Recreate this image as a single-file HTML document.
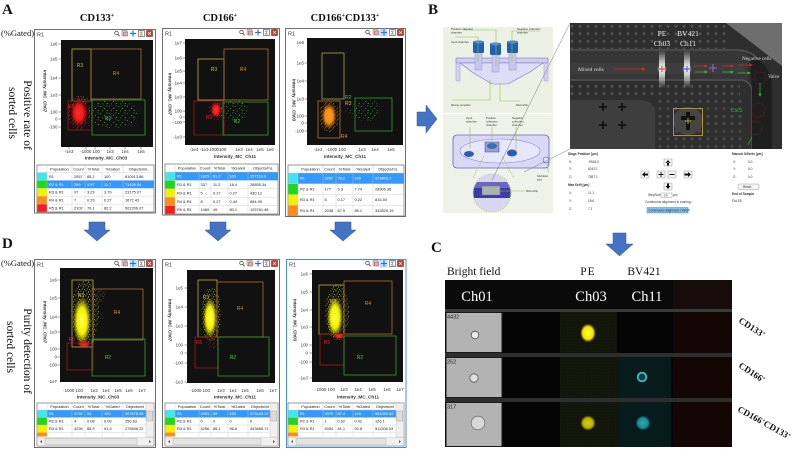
<!DOCTYPE html>
<html><head><meta charset="utf-8">
<style>
html,body{margin:0;padding:0;background:#fff;width:798px;height:449px;overflow:hidden}
svg{display:block}
.s{font-family:"Liberation Sans",sans-serif}
.f{font-family:"Liberation Serif",serif}
.tk{font-family:"Liberation Sans",sans-serif;font-size:4.4px;fill:#333}
.ax{font-family:"Liberation Sans",sans-serif;font-size:4.6px;font-weight:bold;fill:#333}
.tb{font-family:"Liberation Sans",sans-serif;font-size:3.9px;fill:#222}
.tw{font-family:"Liberation Sans",sans-serif;font-size:3.9px;fill:#fff}
.gl{font-family:"Liberation Sans",sans-serif;font-size:5px}
.sm{font-family:"Liberation Sans",sans-serif;font-size:2.8px;fill:#333}
.cb{font-family:"Liberation Sans",sans-serif;font-size:3.2px;fill:#333}
</style></head><body>
<svg width="798" height="449" viewBox="0 0 798 449" xmlns="http://www.w3.org/2000/svg">
<defs>
<radialGradient id="gR"><stop offset="0" stop-color="#ff3030"/><stop offset=".55" stop-color="#f01818"/><stop offset="1" stop-color="#d00" stop-opacity="0"/></radialGradient>
<radialGradient id="gY"><stop offset="0" stop-color="#ffff50"/><stop offset=".55" stop-color="#f4f000"/><stop offset="1" stop-color="#dd0" stop-opacity="0"/></radialGradient>
<radialGradient id="gO"><stop offset="0" stop-color="#ffa428"/><stop offset=".55" stop-color="#f58a10"/><stop offset="1" stop-color="#e07000" stop-opacity="0"/></radialGradient>
<radialGradient id="gPE"><stop offset="0" stop-color="#ffff30"/><stop offset=".7" stop-color="#f4e600"/><stop offset="1" stop-color="#c8b800" stop-opacity=".2"/></radialGradient>
<radialGradient id="gPE2"><stop offset="0" stop-color="#d8d010"/><stop offset=".7" stop-color="#b8ac00"/><stop offset="1" stop-color="#807800" stop-opacity=".1"/></radialGradient>
<radialGradient id="gCy"><stop offset="0" stop-color="#28a8b0"/><stop offset=".7" stop-color="#1a8a92"/><stop offset="1" stop-color="#0e5258" stop-opacity=".1"/></radialGradient>
<radialGradient id="gGlow"><stop offset="0" stop-color="#fff"/><stop offset=".5" stop-color="#eee" stop-opacity=".8"/><stop offset="1" stop-color="#999" stop-opacity="0"/></radialGradient>
<linearGradient id="gStr" x1="0" y1="0" x2="0" y2="1"><stop offset="0" stop-color="#fff" stop-opacity="0"/><stop offset=".4" stop-color="#fff" stop-opacity=".85"/><stop offset=".6" stop-color="#fff" stop-opacity=".85"/><stop offset="1" stop-color="#fff" stop-opacity="0"/></linearGradient>
<pattern id="pG" width="9" height="7" patternUnits="userSpaceOnUse"><rect x="1" y="1" width=".8" height=".8" fill="#3c3"/><rect x="5" y="3" width=".8" height=".8" fill="#4d4"/><rect x="3" y="5.5" width=".8" height=".8" fill="#2b2"/><rect x="7.5" y=".5" width=".8" height=".8" fill="#3c3"/><rect x="7.8" y="5" width=".8" height=".8" fill="#5e5"/></pattern>
<pattern id="pY" width="5" height="5" patternUnits="userSpaceOnUse"><rect x=".5" y=".5" width=".8" height=".8" fill="#ee0"/><rect x="3" y="1.5" width=".8" height=".8" fill="#ffc"/><rect x="1.8" y="3.5" width=".8" height=".8" fill="#dd0"/><rect x="4" y="4" width=".7" height=".7" fill="#ff6"/></pattern>
<pattern id="pR" width="4" height="4" patternUnits="userSpaceOnUse"><rect x=".5" y=".5" width=".8" height=".8" fill="#f22"/><rect x="2.5" y="2" width=".8" height=".8" fill="#d11"/><rect x="1" y="3" width=".7" height=".7" fill="#f44"/></pattern>
<pattern id="pO" width="4" height="4" patternUnits="userSpaceOnUse"><rect x=".5" y=".5" width=".8" height=".8" fill="#f92"/><rect x="2.5" y="2" width=".8" height=".8" fill="#e80"/><rect x="1" y="3" width=".7" height=".7" fill="#fb4"/></pattern>
<pattern id="pD" width="8" height="7.5" patternUnits="userSpaceOnUse"><circle cx="4" cy="3.7" r="1.5" fill="#505050"/></pattern>
<pattern id="pPE" width="3" height="3" patternUnits="userSpaceOnUse"><rect width="3" height="3" fill="#10140a"/><rect x=".5" y=".5" width=".6" height=".6" fill="#2a3010"/><rect x="2" y="2" width=".6" height=".6" fill="#20260c"/></pattern>
<g id="ic">
<circle cx="2.5" cy="3" r="1.8" fill="none" stroke="#555" stroke-width=".8"/><line x1="3.8" y1="4.3" x2="5.6" y2="6.3" stroke="#555" stroke-width="1"/>
<rect x="8" y=".5" width="5" height="5" fill="#ddd" stroke="#777" stroke-width=".5"/><rect x="9.5" y="2" width="4" height="4" fill="#bbb" stroke="#c33" stroke-width=".5"/>
<path d="M19 .5v6M16 3.5h6" stroke="#2a76d2" stroke-width="1.2"/>
<rect x="24.5" y=".5" width="6" height="6" fill="#fff" stroke="#444" stroke-width=".6"/><path d="M28.8 2h-2.5l1.5 1.5-1.5 1.5h2.5" fill="none" stroke="#333" stroke-width=".5"/>
<rect x="32.5" y=".5" width="6" height="6" fill="#c0392b" stroke="#7a1a1a" stroke-width=".5"/><path d="M34 2l3 3M37 2l-3 3" stroke="#fff" stroke-width=".7"/>
</g>
</defs>

<!-- ============ PANEL LETTERS / TITLES ============ -->
<g class="f" font-weight="bold" font-size="15" fill="#111">
<text x="2" y="14">A</text><text x="428" y="14">B</text><text x="2" y="248">D</text><text x="431" y="252">C</text>
</g>
<g class="f" font-weight="bold" font-size="10.5" fill="#111" text-anchor="middle">
<text x="97" y="21">CD133<tspan font-size="6" dy="-4">+</tspan></text>
<text x="220" y="21">CD166<tspan font-size="6" dy="-4">+</tspan></text>
<text x="345" y="21">CD166<tspan font-size="6" dy="-4">+</tspan><tspan dy="4">CD133</tspan><tspan font-size="6" dy="-4">+</tspan></text>
</g>
<g class="f" font-size="8.5" fill="#111">
<text x="1" y="36">(%Gated)</text>
<text x="1" y="266">(%Gated)</text>
</g>
<g class="f" font-size="11.5" fill="#111" text-anchor="middle">
<text transform="translate(24,115) rotate(90)">Positive rate of</text>
<text transform="translate(9,113) rotate(90)">sorted cells</text>
<text transform="translate(24,351) rotate(90)">Purity detection of</text>
<text transform="translate(7,347) rotate(90)">sorted cells</text>
</g>

<!-- ============ ARROWS ============ -->
<g fill="#4472c4" stroke="#2f5597" stroke-width=".5">
<path d="M89 222H105V230H110L97 241L84 230H89Z"/>
<path d="M210 222H226V230H231L218 241L205 230H210Z"/>
<path d="M335 222H351V230H356L343 241L330 230H335Z"/>
<path d="M417 112H426V105L437 119L426 133V126H417Z"/>
<path d="M613 233H626V244H633L619.5 256L606 244H613Z"/>
</g>

<!-- ============ WINDOW A1 ============ -->
<rect x="34.5" y="29.5" width="121" height="183.5" fill="#fff" stroke="#707070"/>
<text x="37" y="36.5" font-size="5.5" class="s" fill="#333">R1</text>
<use href="#ic" x="114" y="30"/>
<rect x="61" y="40" width="92" height="107" fill="#111"/>
<path d="M58.5 44h2.5M58.5 59h2.5M58.5 78h2.5M58.5 95h2.5M58.5 112h2.5M58.5 119h2.5M58.5 127h2.5M69 147v2.5M86 147v2.5M95 147v2.5M110 147v2.5M125 147v2.5M141 147v2.5" stroke="#444" stroke-width=".5"/>
<g class="tk" text-anchor="end"><text x="57.5" y="45.5">1e6</text><text x="57.5" y="60.5">1e5</text><text x="57.5" y="79.5">1e4</text><text x="57.5" y="96.5">1e3</text><text x="57.5" y="113.5">100</text><text x="57.5" y="120.5">0</text><text x="57.5" y="128.5">-100</text></g>
<g class="tk" text-anchor="middle"><text x="69" y="153">-1e3</text><text x="90" y="153">-1000 100</text><text x="110" y="153">1e3</text><text x="125" y="153">1e4</text><text x="141" y="153">1e5</text></g>
<text x="106" y="159.5" class="ax" text-anchor="middle">Intensity_MC_Ch03</text>
<text transform="translate(43.5,91) rotate(90)" class="ax" text-anchor="middle">Intensity_MC_Ch07</text>
<ellipse cx="113" cy="114" rx="26" ry="14" fill="url(#pG)"/>
<ellipse cx="79" cy="113" rx="11" ry="17" fill="url(#pR)"/>
<ellipse cx="79" cy="113" rx="8.5" ry="14" fill="url(#gR)"/>
<ellipse cx="82" cy="99" rx="7" ry="3" fill="url(#pY)" opacity=".7"/>
<g fill="none" stroke-width=".8">
<rect x="72" y="49" width="19" height="52" stroke="#b8b040"/>
<rect x="91" y="49" width="50" height="50" stroke="#a87028"/>
<rect x="68" y="101" width="24" height="29" stroke="#a01818"/>
<rect x="92" y="100" width="53" height="35" stroke="#2fa02f"/>
</g>
<g class="gl" text-anchor="middle"><text x="80" y="67" fill="#c8c040">R3</text><text x="116" y="75" fill="#d09030">R4</text><text x="71" y="108" fill="#e02020">R5</text><text x="108" y="120" fill="#40d040">R2</text></g>
<g transform="translate(37,165)">
<rect width="117" height="47" fill="#fff" stroke="#555" stroke-width=".6"/>
<rect x="10" y="15.4" width="107" height="7.9" fill="#3399ff"/>
<rect x=".3" y="7.5" width="9.7" height="7.9" fill="#3ee6f0"/><rect x=".3" y="15.4" width="9.7" height="7.9" fill="#1ed81e"/><rect x=".3" y="23.3" width="9.7" height="7.9" fill="#f2f200"/><rect x=".3" y="31.2" width="9.7" height="7.9" fill="#ff8c18"/><rect x=".3" y="39.1" width="9.7" height="7.6" fill="#ff1a1a"/>
<path d="M0 7.5H117M0 15.4H117M0 23.3H117M0 31.2H117M0 39.1H117M10 0V47M35 0V47M48 0V47M65 0V47M86 0V47" stroke="#c8c8c8" stroke-width=".4"/>
<g class="tb" text-anchor="middle"><text x="22.5" y="5.3">Population</text><text x="41.5" y="5.3">Count</text><text x="56.5" y="5.3">%Total</text><text x="75.5" y="5.3">%Gated</text><text x="101.5" y="5.3">Objects/mL</text></g>
<g class="tb"><text x="12" y="12.9">R1</text><text x="37" y="12.9">2557</text><text x="50" y="12.9">85.2</text><text x="67" y="12.9">100</text><text x="88" y="12.9">610913.86</text></g>
<g class="tw"><text x="12" y="20.8">R2 &amp; R1</text><text x="37" y="20.8">299</text><text x="50" y="20.8">9.97</text><text x="67" y="20.8">11.7</text><text x="88" y="20.8">71436.54</text></g>
<g class="tb"><text x="12" y="28.7">R3 &amp; R1</text><text x="37" y="28.7">97</text><text x="50" y="28.7">3.23</text><text x="67" y="28.7">3.79</text><text x="88" y="28.7">23175.07</text></g>
<g class="tb"><text x="12" y="36.6">R4 &amp; R1</text><text x="37" y="36.6">7</text><text x="50" y="36.6">0.23</text><text x="67" y="36.6">0.27</text><text x="88" y="36.6">1672.43</text></g>
<g class="tb"><text x="12" y="44.5">R5 &amp; R1</text><text x="37" y="44.5">2102</text><text x="50" y="44.5">70.1</text><text x="67" y="44.5">82.2</text><text x="88" y="44.5">502206.07</text></g>
</g>

<!-- ============ WINDOW A2 ============ -->
<rect x="162.5" y="28.5" width="117" height="186.5" fill="#fff" stroke="#707070"/>
<text x="165" y="35.5" font-size="5.5" class="s" fill="#333">R1</text>
<use href="#ic" x="239" y="29"/>
<rect x="185" y="39" width="90" height="106" fill="#111"/>
<path d="M182.5 43h2.5M182.5 58h2.5M182.5 71h2.5M182.5 83h2.5M182.5 97h2.5M182.5 111h2.5M182.5 117h2.5M182.5 122h2.5M182.5 137h2.5" stroke="#444" stroke-width=".5"/>
<g class="tk" text-anchor="end"><text x="182" y="44.5">1e7</text><text x="182" y="59.5">1e6</text><text x="182" y="72.5">1e5</text><text x="182" y="84.5">1e4</text><text x="182" y="98.5">1e3</text><text x="182" y="112.5">100</text><text x="182" y="118.5">0</text><text x="182" y="124">-100</text><text x="182" y="138.5">-1e3</text></g>
<g class="tk" text-anchor="middle"><text x="194" y="151">-1e4</text><text x="204" y="151">-1e3</text><text x="217" y="151">-1000100</text><text x="239" y="151">1e3</text><text x="249" y="151">1e4</text><text x="260" y="151">1e5</text><text x="270" y="151">1e6</text></g>
<text x="235" y="158" class="ax" text-anchor="middle">Intensity_MC_Ch11</text>
<text transform="translate(168.5,94) rotate(90)" class="ax" text-anchor="middle">Intensity_MC_Ch07</text>
<ellipse cx="232" cy="110" rx="16" ry="11" fill="url(#pG)"/>
<ellipse cx="216" cy="110" rx="7" ry="10" fill="url(#pR)"/>
<ellipse cx="216" cy="110" rx="5.5" ry="8" fill="url(#gR)"/>
<g fill="none" stroke-width=".8">
<rect x="198" y="59" width="26" height="41" stroke="#b8b040"/>
<rect x="224" y="49" width="44" height="51" stroke="#a87028"/>
<rect x="194" y="101" width="30" height="34" stroke="#a01818"/>
<rect x="223" y="102" width="45" height="33" stroke="#2fa02f"/>
</g>
<g class="gl" text-anchor="middle"><text x="214" y="71" fill="#c8c040">R3</text><text x="243" y="71" fill="#d09030">R4</text><text x="209" y="119" fill="#e02020">R5</text><text x="237" y="123" fill="#40d040">R2</text></g>
<g transform="translate(165,164)">
<rect width="113" height="50" fill="#fff" stroke="#555" stroke-width=".6"/>
<rect x="10" y="8" width="103" height="8.4" fill="#3399ff"/>
<rect x=".3" y="8" width="9.7" height="8.4" fill="#3ee6f0"/><rect x=".3" y="16.4" width="9.7" height="8.4" fill="#1ed81e"/><rect x=".3" y="24.8" width="9.7" height="8.4" fill="#f2f200"/><rect x=".3" y="33.2" width="9.7" height="8.4" fill="#ff8c18"/><rect x=".3" y="41.6" width="9.7" height="8.1" fill="#ff1a1a"/>
<path d="M0 8H113M0 16.4H113M0 24.8H113M0 33.2H113M0 41.6H113M10 0V50M34 0V50M46 0V50M63 0V50M83 0V50" stroke="#c8c8c8" stroke-width=".4"/>
<g class="tb" text-anchor="middle"><text x="22" y="5.6">Population</text><text x="40" y="5.6">Count</text><text x="54.5" y="5.6">%Total</text><text x="73" y="5.6">%Gated</text><text x="98" y="5.6">Objects/mL</text></g>
<g class="tw"><text x="12" y="13.6">R1</text><text x="35.5" y="13.6">1825</text><text x="48" y="13.6">61.2</text><text x="64.5" y="13.6">100</text><text x="85" y="13.6">157118.0</text></g>
<g class="tb"><text x="12" y="22">R2 &amp; R1</text><text x="35.5" y="22">337</text><text x="48" y="22">11.2</text><text x="64.5" y="22">18.4</text><text x="85" y="22">28855.34</text></g>
<g class="tb"><text x="12" y="30.4">R3 &amp; R1</text><text x="35.5" y="30.4">5</text><text x="48" y="30.4">0.17</text><text x="64.5" y="30.4">0.27</text><text x="85" y="30.4">430.12</text></g>
<g class="tb"><text x="12" y="38.8">R4 &amp; R1</text><text x="35.5" y="38.8">8</text><text x="48" y="38.8">0.27</text><text x="64.5" y="38.8">0.44</text><text x="85" y="38.8">684.99</text></g>
<g class="tb"><text x="12" y="47.2">R5 &amp; R1</text><text x="35.5" y="47.2">1469</text><text x="48" y="47.2">49</text><text x="64.5" y="47.2">80.1</text><text x="85" y="47.2">125761.46</text></g>
</g>

<!-- ============ WINDOW A3 ============ -->
<rect x="285.5" y="28.5" width="120" height="188" fill="#fff" stroke="#707070"/>
<text x="288" y="35.5" font-size="5.5" class="s" fill="#333">R1</text>
<rect x="380" y="29" width="7" height="7" fill="#cfe4fb" stroke="#7aaee0" stroke-width=".4"/>
<use href="#ic" x="365" y="29"/>
<rect x="307" y="38" width="96" height="107" fill="#111"/>
<path d="M304.5 63h2.5M304.5 81h2.5M304.5 99h2.5M304.5 116h2.5M304.5 123h2.5M304.5 131h2.5" stroke="#444" stroke-width=".5"/>
<g class="tk" text-anchor="end"><text x="304" y="44">1e6</text><text x="304" y="64.5">1e5</text><text x="304" y="82.5">1e4</text><text x="304" y="100.5">1e3</text><text x="304" y="117.5">100</text><text x="304" y="124.5">0</text><text x="304" y="132.5">-100</text></g>
<g class="tk" text-anchor="middle"><text x="318" y="151">-1e3</text><text x="336" y="151">-1000 100</text><text x="362" y="151">1e3</text><text x="375" y="151">1e4</text><text x="391" y="151">1e5</text></g>
<text x="345" y="158" class="ax" text-anchor="middle">Intensity_MC_Ch11</text>
<text transform="translate(292.5,100) rotate(90)" class="ax" text-anchor="middle">Intensity_MC_Ch03</text>
<ellipse cx="366" cy="110" rx="14" ry="11" fill="url(#pG)"/>
<ellipse cx="349" cy="110" rx="8" ry="4" fill="url(#pG)" opacity=".6"/>
<ellipse cx="329" cy="116" rx="10" ry="16" fill="url(#pO)"/>
<ellipse cx="329" cy="116" rx="7.5" ry="13" fill="url(#gO)"/>
<g fill="none" stroke-width=".8">
<rect x="322" y="53" width="22" height="46" stroke="#b0a450"/>
<rect x="318" y="101" width="22" height="37" stroke="#b07828"/>
<rect x="355" y="98" width="37" height="33" stroke="#2fa02f"/>
</g>
<g class="gl"><text x="345" y="99" fill="#40d040">R2</text><text x="345" y="105" fill="#d0c030">R3</text><text x="341" y="138" fill="#e0a020">R4</text></g>
<g transform="translate(288,165)">
<rect width="116" height="51" fill="#fff" stroke="#555" stroke-width=".6"/>
<rect x="10" y="8" width="106" height="10.75" fill="#3399ff"/>
<rect x=".3" y="8" width="9.7" height="10.75" fill="#3ee6f0"/><rect x=".3" y="18.75" width="9.7" height="10.75" fill="#1ed81e"/><rect x=".3" y="29.5" width="9.7" height="10.75" fill="#f2f200"/><rect x=".3" y="40.25" width="9.7" height="10.5" fill="#ff8c18"/>
<path d="M0 8H116M0 18.75H116M0 29.5H116M0 40.25H116M10 0V51M35 0V51M48 0V51M65 0V51M85 0V51" stroke="#c8c8c8" stroke-width=".4"/>
<g class="tb" text-anchor="middle"><text x="22.5" y="5.6">Population</text><text x="41.5" y="5.6">Count</text><text x="56.5" y="5.6">%Total</text><text x="75" y="5.6">%Gated</text><text x="100" y="5.6">Objects/mL</text></g>
<g class="tw"><text x="12" y="14.6">R1</text><text x="36.5" y="14.6">2287</text><text x="49.5" y="14.6">76.2</text><text x="66.5" y="14.6">100</text><text x="87" y="14.6">373403.7</text></g>
<g class="tb"><text x="12" y="25.35">R2 &amp; R1</text><text x="36.5" y="25.35">177</text><text x="49.5" y="25.35">5.9</text><text x="66.5" y="25.35">7.74</text><text x="87" y="25.35">28905.38</text></g>
<g class="tb"><text x="12" y="36.1">R3 &amp; R1</text><text x="36.5" y="36.1">5</text><text x="49.5" y="36.1">0.17</text><text x="66.5" y="36.1">0.22</text><text x="87" y="36.1">816.54</text></g>
<g class="tb"><text x="12" y="46.85">R4 &amp; R1</text><text x="36.5" y="46.85">2038</text><text x="49.5" y="46.85">67.9</text><text x="66.5" y="46.85">89.1</text><text x="87" y="46.85">332820.19</text></g>
</g>

<!-- ============ WINDOW D1 ============ -->
<rect x="34.5" y="259.5" width="121" height="188" fill="#fff" stroke="#707070"/>
<text x="37" y="266.5" font-size="5.5" class="s" fill="#333">R1</text>
<rect x="130" y="260" width="7" height="7" fill="#cfe4fb" stroke="#7aaee0" stroke-width=".4"/>
<use href="#ic" x="114" y="260"/>
<rect x="60" y="268" width="93" height="114" fill="#111"/>
<path d="M57.5 280h2.5M57.5 298h2.5M57.5 317h2.5M57.5 332h2.5M57.5 349h2.5M57.5 357h2.5M57.5 365h2.5" stroke="#444" stroke-width=".5"/>
<g class="tk" text-anchor="end"><text x="57" y="281.5">1e6</text><text x="57" y="299.5">1e5</text><text x="57" y="318.5">1e4</text><text x="57" y="333.5">1e3</text><text x="57" y="350.5">100</text><text x="57" y="358.5">0</text><text x="57" y="366.5">-100</text><text x="57" y="383">-1e7</text></g>
<g class="tk" text-anchor="middle"><text x="73" y="392">-1000 100</text><text x="94" y="392">1e3</text><text x="106" y="392">1e4</text><text x="118" y="392">1e5</text><text x="129" y="392">1e6</text><text x="142" y="392">1e7</text></g>
<text x="98" y="398.5" class="ax" text-anchor="middle">Intensity_MC_Ch03</text>
<text transform="translate(43.5,322) rotate(90)" class="ax" text-anchor="middle">Intensity_MC_Ch07</text>
<ellipse cx="85" cy="312" rx="14" ry="32" fill="url(#pY)"/>
<ellipse cx="95" cy="296" rx="10" ry="8" fill="url(#pY)" opacity=".5"/>
<ellipse cx="82" cy="321" rx="9" ry="24" fill="url(#gY)"/>
<ellipse cx="84" cy="344" rx="7" ry="3.5" fill="url(#gR)"/>
<g fill="none" stroke-width=".8">
<rect x="72" y="280" width="21" height="67" stroke="#b8b040"/>
<rect x="93" y="289" width="50" height="51" stroke="#a87028"/>
<rect x="67" y="343" width="26" height="27" stroke="#a01818"/>
<rect x="92" y="339" width="53" height="37" stroke="#2fa02f"/>
</g>
<g class="gl" text-anchor="middle"><text x="81" y="297" fill="#c8c040">R3</text><text x="117" y="314" fill="#d09030">R4</text><text x="72" y="341" fill="#e02020">R5</text><text x="108" y="359" fill="#40d040">R2</text></g>
<g transform="translate(37,403)">
<rect width="117" height="43" fill="#fff" stroke="#555" stroke-width=".6"/>
<rect x="10" y="7" width="107" height="7.5" fill="#3399ff"/>
<rect x=".3" y="7" width="9.7" height="7.5" fill="#3ee6f0"/><rect x=".3" y="14.5" width="9.7" height="7.5" fill="#1ed81e"/><rect x=".3" y="22" width="9.7" height="7.5" fill="#f2f200"/><rect x=".3" y="29.5" width="9.7" height="4" fill="#ff8c18"/>
<path d="M0 7H117M0 14.5H117M0 22H117M0 29.5H117M10 0V34M35 0V34M48 0V34M65 0V34M86 0V34" stroke="#c8c8c8" stroke-width=".4"/>
<g class="tb" text-anchor="middle"><text x="22.5" y="5">Population</text><text x="41.5" y="5">Count</text><text x="56.5" y="5">%Total</text><text x="75.5" y="5">%Gated</text><text x="98" y="5">Objects/ml</text></g>
<g class="tw"><text x="12" y="12.2">R1</text><text x="37" y="12.2">4792</text><text x="50" y="12.2">94</text><text x="67" y="12.2">100</text><text x="88" y="12.2">307678.45</text></g>
<g class="tb"><text x="12" y="19.7">R2 &amp; R1</text><text x="37" y="19.7">4</text><text x="50" y="19.7">0.08</text><text x="67" y="19.7">0.09</text><text x="88" y="19.7">256.63</text></g>
<g class="tb"><text x="12" y="27.2">R3 &amp; R1</text><text x="37" y="27.2">4295</text><text x="50" y="27.2">85.9</text><text x="67" y="27.2">91.3</text><text x="88" y="27.2">275658.22</text></g>
<rect x="109" y=".3" width="7.7" height="33.7" fill="#f0f0f0" stroke="#bbb" stroke-width=".4"/><rect x="109.8" y="8" width="6" height="10" fill="#dcdcdc" stroke="#999" stroke-width=".4"/>
<rect x=".3" y="34.5" width="116.4" height="8.2" fill="#f0f0f0" stroke="#bbb" stroke-width=".4"/><rect x="8" y="35.3" width="92" height="6.6" fill="#e4e4e4" stroke="#aaa" stroke-width=".4"/>
<path d="M3 38.6l2-1.5v3zM114 38.6l-2-1.5v3z" fill="#555"/>
</g>

<!-- ============ WINDOW D2 ============ -->
<rect x="162.5" y="259.5" width="117" height="188" fill="#fff" stroke="#707070"/>
<text x="165" y="266.5" font-size="5.5" class="s" fill="#333">R1</text>
<use href="#ic" x="239" y="260"/>
<rect x="187" y="270" width="88" height="113" fill="#111"/>
<path d="M184.5 288h2.5M184.5 307h2.5M184.5 326h2.5M184.5 345h2.5M184.5 353h2.5M184.5 363h2.5M184.5 382h2.5" stroke="#444" stroke-width=".5"/>
<g class="tk" text-anchor="end"><text x="183" y="289.5">1e5</text><text x="183" y="308.5">1e4</text><text x="183" y="327.5">1e3</text><text x="183" y="346.5">100</text><text x="183" y="354.5">0</text><text x="183" y="364.5">-100</text><text x="183" y="383.5">-1e3</text></g>
<g class="tk" text-anchor="middle"><text x="200" y="392">-1000 100</text><text x="221" y="392">1e3</text><text x="233" y="392">1e4</text><text x="245" y="392">1e5</text><text x="260" y="392">1e6</text><text x="273" y="392">1e7</text></g>
<text x="235" y="398.5" class="ax" text-anchor="middle">Intensity_MC_Ch11</text>
<text transform="translate(168.5,320) rotate(90)" class="ax" text-anchor="middle">Intensity_MC_Ch07</text>
<ellipse cx="211" cy="314" rx="10" ry="27" fill="url(#pY)"/>
<ellipse cx="210" cy="318" rx="7" ry="20" fill="url(#gY)"/>
<ellipse cx="212" cy="342" rx="6" ry="6" fill="url(#pR)" opacity=".6"/>
<g fill="none" stroke-width=".8">
<rect x="198" y="280" width="19" height="57" stroke="#b8b040"/>
<rect x="217" y="282" width="46" height="55" stroke="#a87028"/>
<rect x="195" y="337" width="23" height="31" stroke="#a01818"/>
<rect x="218" y="337" width="51" height="39" stroke="#2fa02f"/>
</g>
<g class="gl" text-anchor="middle"><text x="206" y="299" fill="#c8c040">R3</text><text x="240" y="310" fill="#d09030">R4</text><text x="199" y="344" fill="#e02020">R5</text><text x="233" y="359" fill="#40d040">R2</text></g>
<g transform="translate(165,403)">
<rect width="113" height="43" fill="#fff" stroke="#555" stroke-width=".6"/>
<rect x="10" y="7" width="103" height="7.5" fill="#3399ff"/>
<rect x=".3" y="7" width="9.7" height="7.5" fill="#3ee6f0"/><rect x=".3" y="14.5" width="9.7" height="7.5" fill="#1ed81e"/><rect x=".3" y="22" width="9.7" height="7.5" fill="#f2f200"/><rect x=".3" y="29.5" width="9.7" height="4" fill="#ff8c18"/>
<path d="M0 7H113M0 14.5H113M0 22H113M0 29.5H113M10 0V34M34 0V34M46 0V34M63 0V34M83 0V34" stroke="#c8c8c8" stroke-width=".4"/>
<g class="tb" text-anchor="middle"><text x="22" y="5">Population</text><text x="40" y="5">Count</text><text x="54.5" y="5">%Total</text><text x="73" y="5">%Gated</text><text x="95" y="5">Objects/ml</text></g>
<g class="tw"><text x="12" y="12.2">R1</text><text x="35.5" y="12.2">4451</text><text x="48" y="12.2">89</text><text x="64.5" y="12.2">100</text><text x="85" y="12.2">473183.12</text></g>
<g class="tb"><text x="12" y="19.7">R2 &amp; R1</text><text x="35.5" y="19.7">0</text><text x="48" y="19.7">0</text><text x="64.5" y="19.7">0</text><text x="85" y="19.7">0</text></g>
<g class="tb"><text x="12" y="27.2">R3 &amp; R1</text><text x="35.5" y="27.2">4296</text><text x="48" y="27.2">85.1</text><text x="64.5" y="27.2">96.6</text><text x="85" y="27.2">443686.71</text></g>
<rect x="105" y=".3" width="7.7" height="33.7" fill="#f0f0f0" stroke="#bbb" stroke-width=".4"/><rect x="105.8" y="8" width="6" height="10" fill="#dcdcdc" stroke="#999" stroke-width=".4"/>
<rect x=".3" y="34.5" width="112.4" height="8.2" fill="#f0f0f0" stroke="#bbb" stroke-width=".4"/><rect x="8" y="35.3" width="88" height="6.6" fill="#e4e4e4" stroke="#aaa" stroke-width=".4"/>
<path d="M3 38.6l2-1.5v3zM110 38.6l-2-1.5v3z" fill="#555"/>
</g>

<!-- ============ WINDOW D3 ============ -->
<rect x="286.5" y="259.5" width="119.5" height="188" fill="#fff" stroke="#4a8fd4"/>
<text x="289" y="266.5" font-size="5.5" class="s" fill="#333">R1</text>
<rect x="380" y="260" width="7" height="7" fill="#cfe4fb" stroke="#7aaee0" stroke-width=".4"/>
<use href="#ic" x="365" y="260"/>
<rect x="312" y="270" width="91" height="112" fill="#111"/>
<path d="M309.5 274h2.5M309.5 292h2.5M309.5 310h2.5M309.5 327h2.5M309.5 345h2.5M309.5 353h2.5M309.5 362h2.5M309.5 378h2.5" stroke="#444" stroke-width=".5"/>
<g class="tk" text-anchor="end"><text x="308" y="275.5">1e6</text><text x="308" y="293.5">1e5</text><text x="308" y="311.5">1e4</text><text x="308" y="328.5">1e3</text><text x="308" y="346.5">100</text><text x="308" y="354.5">0</text><text x="308" y="363.5">-100</text><text x="308" y="379.5">-1e3</text></g>
<g class="tk" text-anchor="middle"><text x="325" y="391">-1000 100</text><text x="344" y="391">1e3</text><text x="358" y="391">1e4</text><text x="372" y="391">1e5</text><text x="387" y="391">1e6</text><text x="400" y="391">1e7</text></g>
<text x="358" y="398.5" class="ax" text-anchor="middle">Intensity_MC_Ch11</text>
<text transform="translate(293.5,320) rotate(90)" class="ax" text-anchor="middle">Intensity_MC_Ch03</text>
<ellipse cx="337" cy="312" rx="12" ry="28" fill="url(#pY)"/>
<ellipse cx="335" cy="317" rx="8" ry="20" fill="url(#gY)"/>
<ellipse cx="339" cy="336" rx="6" ry="3" fill="url(#gR)"/>
<g fill="none" stroke-width=".8">
<rect x="319" y="285" width="25" height="49" stroke="#b8b040"/>
<rect x="344" y="281" width="48" height="53" stroke="#a87028"/>
<rect x="320" y="334" width="24" height="31" stroke="#a01818"/>
<rect x="344" y="336" width="52" height="39" stroke="#2fa02f"/>
</g>
<g class="gl" text-anchor="middle"><text x="333" y="303" fill="#c8c040">R3</text><text x="368" y="305" fill="#d09030">R4</text><text x="327" y="344" fill="#e02020">R5</text><text x="360" y="359" fill="#40d040">R2</text></g>
<g transform="translate(288,403)">
<rect width="116" height="43" fill="#fff" stroke="#555" stroke-width=".6"/>
<rect x="10" y="7" width="106" height="7.5" fill="#3399ff"/>
<rect x=".3" y="7" width="9.7" height="7.5" fill="#3ee6f0"/><rect x=".3" y="14.5" width="9.7" height="7.5" fill="#1ed81e"/><rect x=".3" y="22" width="9.7" height="7.5" fill="#f2f200"/><rect x=".3" y="29.5" width="9.7" height="4" fill="#ff8c18"/>
<path d="M0 7H116M0 14.5H116M0 22H116M0 29.5H116M10 0V34M35 0V34M48 0V34M65 0V34M85 0V34" stroke="#c8c8c8" stroke-width=".4"/>
<g class="tb" text-anchor="middle"><text x="22.5" y="5">Population</text><text x="41.5" y="5">Count</text><text x="56.5" y="5">%Total</text><text x="75" y="5">%Gated</text><text x="97" y="5">Objects/ml</text></g>
<g class="tw"><text x="12" y="12.2">R1</text><text x="36.5" y="12.2">4370</text><text x="49.5" y="12.2">87.4</text><text x="66.5" y="12.2">100</text><text x="87" y="12.2">551052.82</text></g>
<g class="tb"><text x="12" y="19.7">R2 &amp; R1</text><text x="36.5" y="19.7">1</text><text x="49.5" y="19.7">0.02</text><text x="66.5" y="19.7">0.02</text><text x="87" y="19.7">126.1</text></g>
<g class="tb"><text x="12" y="27.2">R3 &amp; R1</text><text x="36.5" y="27.2">4054</text><text x="49.5" y="27.2">81.1</text><text x="66.5" y="27.2">92.8</text><text x="87" y="27.2">511208.53</text></g>
<rect x="108" y=".3" width="7.7" height="33.7" fill="#f0f0f0" stroke="#bbb" stroke-width=".4"/><rect x="108.8" y="8" width="6" height="10" fill="#dcdcdc" stroke="#999" stroke-width=".4"/>
<rect x=".3" y="34.5" width="115.4" height="8.2" fill="#f0f0f0" stroke="#bbb" stroke-width=".4"/><rect x="8" y="35.3" width="90" height="6.6" fill="#e4e4e4" stroke="#aaa" stroke-width=".4"/>
<path d="M3 38.6l2-1.5v3zM113 38.6l-2-1.5v3z" fill="#555"/>
</g>

<!-- ============ PANEL B: DEVICE ============ -->
<rect x="443" y="27" width="110" height="86" fill="#edf1e5"/>
<rect x="443" y="114" width="110" height="99" fill="#eef2e8"/>
<!-- top device -->
<g stroke-width=".6">
<rect x="456" y="58" width="92" height="5" fill="#cfcdf0" stroke="#7d74cc"/>
<path d="M460 63L543 63L530 72L508 84L492 84L472 72Z" fill="#dedcf6" stroke="#7d74cc"/>
<rect x="456" y="63" width="4" height="18" fill="#d5d3f2" stroke="#8a82d0" stroke-width=".4"/>
<rect x="544" y="63" width="4" height="18" fill="#d5d3f2" stroke="#8a82d0" stroke-width=".4"/>
<rect x="475" y="52" width="7" height="18" fill="#c8c6ee" stroke="#8a82d0" stroke-width=".4"/>
<rect x="492" y="52" width="7" height="20" fill="#c8c6ee" stroke="#8a82d0" stroke-width=".4"/>
<rect x="509" y="52" width="7" height="18" fill="#c8c6ee" stroke="#8a82d0" stroke-width=".4"/>
</g>
<g fill="#1f60b0"><rect x="473" y="41" width="11" height="12" rx="1.5"/><rect x="490" y="43" width="11" height="12" rx="1.5"/><rect x="507" y="41" width="11" height="12" rx="1.5"/></g>
<g fill="#4a88d4"><ellipse cx="478.5" cy="42" rx="5" ry="1.6"/><ellipse cx="495.5" cy="44" rx="5" ry="1.6"/><ellipse cx="512.5" cy="42" rx="5" ry="1.6"/></g>
<g stroke="#8cc63f" stroke-width=".6" fill="none">
<path d="M455 37H478V62"/><path d="M463 30H496V66"/><path d="M540 31H512V62"/><path d="M452 100H490V80"/><path d="M520 101H500V84"/>
</g>
<g class="sm"><text x="451" y="30">Positive collection</text><text x="451" y="33.5">chamber</text><text x="451" y="43">Input chamber</text><text x="517" y="30">Negative collection</text><text x="517" y="33.5">chamber</text><text x="451" y="106">Mixing propeller</text><text x="516" y="106">Microchip</text></g>
<!-- bottom device -->
<rect x="453" y="135" width="96" height="33" rx="4" fill="#dad8f4" stroke="#6d63c4" stroke-width=".8"/>
<ellipse cx="500" cy="151" rx="40" ry="12" fill="#e8e6fa" stroke="#8b83d6" stroke-width=".6"/>
<ellipse cx="469" cy="154" rx="5" ry="3" fill="#2a5db0"/><ellipse cx="512" cy="153" rx="5" ry="3.5" fill="#2a5db0"/>
<rect x="485" y="142" width="14" height="10" fill="#9aa0c8" stroke="#3c4aa0" stroke-width=".5"/>
<ellipse cx="492" cy="146" rx="5" ry="3" fill="#3a70c0"/>
<circle cx="546" cy="160" r="3" fill="#e0e0f4" stroke="#5a52b8" stroke-width=".6"/>
<g stroke="#8cc63f" stroke-width=".6" fill="none" stroke-dasharray="1.5 1"><path d="M484 156L473 178"/><path d="M502 156L514 178"/><circle cx="492" cy="193" r="19"/></g>
<clipPath id="cc"><circle cx="492" cy="193" r="18.6"/></clipPath>
<g clip-path="url(#cc)"><rect x="470" y="172" width="45" height="42" fill="#d8d6f2"/><rect x="470" y="182" width="45" height="6" fill="#6a66c4"/><rect x="470" y="188" width="45" height="10" fill="#3c3ca8"/><rect x="482" y="186" width="18" height="9" fill="#a9b3b0" stroke="#6a7470" stroke-width=".5"/></g>
<g stroke="#8cc63f" stroke-width=".6" fill="none"><path d="M470 127V148"/><path d="M492 127V142"/><path d="M516 127V150"/><path d="M500 191H525"/><path d="M548 163V172"/></g>
<g class="sm"><text x="466" y="119">Input</text><text x="466" y="122.5">chamber</text><text x="486" y="119">Positive</text><text x="486" y="122.5">collection</text><text x="486" y="126">chamber</text><text x="512" y="119">Negative</text><text x="512" y="122.5">collection</text><text x="512" y="126">chamber</text><text x="537" y="177">Sprinkler</text><text x="537" y="180.5">port</text><text x="526" y="192">Microchip</text></g>
<g stroke="#7a7a7a" stroke-width=".5"><line x1="570" y1="23" x2="492" y2="180"/><line x1="570" y1="149" x2="524" y2="172"/></g>

<!-- ============ PANEL B: MICROSCOPE ============ -->
<rect x="570" y="23" width="212" height="126" fill="#2e2e2e"/>
<rect x="570" y="23" width="160" height="26" fill="url(#pD)"/>
<polygon points="726,23 782,23 782,66" fill="#6e6e6e"/>
<rect x="570" y="49" width="178" height="32" fill="#363636"/>
<path d="M570 50H735Q752 50 758 60" fill="none" stroke="#555" stroke-width="1.2"/>
<path d="M570 80H740Q750 80 752 90V149" fill="none" stroke="#555" stroke-width="1.2"/>
<rect x="570" y="63" width="175" height="11" fill="#3d3d3d"/>
<path d="M752 90V149H772V88Q772 64 750 56" fill="#1e1e1e"/>
<rect x="570" y="83" width="170" height="15" fill="url(#pD)"/>
<path d="M570 100H638Q655 100 655 112V149H570Z" fill="#3e3e3e"/>
<rect x="657" y="100" width="85" height="49" fill="url(#pD)" opacity=".8"/>
<ellipse cx="688" cy="121" rx="15" ry="14" fill="#454545"/>
<g stroke="#111" stroke-width="1.8"><path d="M599 107h8M603 103v8M618 107h8M622 103v8M599 125h8M603 121v8M618 125h8M622 121v8"/></g>
<path d="M681 118h14M688 112v18" stroke="#111" stroke-width="4"/>
<rect x="673.5" y="108.5" width="29" height="27" fill="none" stroke="#c8b020" stroke-width=".8"/>
<path d="M685 121h6M688 118v6" stroke="#e8d020" stroke-width=".8"/>
<rect x="659" y="50" width="6" height="38" fill="url(#gStr)"/>
<rect x="684" y="50" width="6" height="38" fill="url(#gStr)"/>
<circle cx="662" cy="69" r="5" fill="url(#gGlow)"/><circle cx="687" cy="69" r="5" fill="url(#gGlow)"/>
<path d="M659 69h6M662 66v6" stroke="#e02020" stroke-width=".9"/>
<path d="M684 69h6M687 66v6" stroke="#3040e0" stroke-width=".9"/>
<path d="M709 68h8M713 64v8" stroke="#9a66d0" stroke-width="1"/>
<g stroke="#e02828" stroke-width=".7" fill="#e02828"><path d="M615 69H645"/><path d="M645 69l-2.5-1.3v2.6z"/><path d="M693 66H707"/><path d="M707 66l-2-1v2z"/><path d="M722 66H733"/><path d="M733 66l-2-1v2z"/><path d="M738 65H752"/><path d="M752 65l-2-1v2z"/></g>
<g stroke="#30c030" stroke-width=".7" fill="#30c030"><path d="M695 72H707"/><path d="M707 72l-2-1v2z"/><path d="M722 72H733"/><path d="M733 72l-2-1v2z"/><path d="M738 73H750"/><path d="M750 73l-2-1v2z"/><path d="M760 83V96"/><path d="M760 96l-1-2h2z"/><path d="M752 137L748 145"/></g>
<g fill="none" stroke="#b02020" stroke-width=".5" stroke-dasharray="1 1"><circle cx="758" cy="110" r="7"/><circle cx="755" cy="128" r="7"/><circle cx="760" cy="78" r="6"/></g>
<g class="f" fill="#eee" font-size="7.5" text-anchor="middle"><text x="662" y="36">PE</text><text x="688" y="36">BV421</text><text x="662" y="46">Ch03</text><text x="688" y="46">Ch11</text></g>
<text x="578" y="71" class="f" font-size="5.5" fill="#ddd">Mixed cells</text>
<text x="742" y="60" class="f" font-size="5.2" fill="#ddd">Negative cells</text>
<text x="768" y="78" class="f" font-size="5" fill="#ddd">Valve</text>
<text x="731" y="112" class="f" font-size="5" fill="#3c3">CSCs</text>

<!-- controls -->
<g class="cb">
<text x="568" y="155" font-weight="bold">Stage Position [µm]</text>
<text x="569" y="163">X:</text><text x="588" y="163">-9518.0</text>
<text x="569" y="170">Y:</text><text x="588" y="170">62421</text>
<text x="569" y="178">Z:</text><text x="588" y="178">7857.1</text>
<text x="568" y="186" font-weight="bold">Max Drift [µm]</text>
<text x="569" y="194">X:</text><text x="588" y="194">11.1</text>
<text x="569" y="202">Y:</text><text x="588" y="202">18.6</text>
<text x="569" y="210">Z:</text><text x="588" y="210">7.1</text>
<text x="732" y="155" font-weight="bold">Manual Offsets [µm]</text>
<text x="733" y="163">X:</text><text x="748" y="163">0.0</text>
<text x="733" y="170">Y:</text><text x="748" y="170">0.0</text>
<text x="733" y="178">Z:</text><text x="748" y="178">0.0</text>
<text x="732" y="195" font-weight="bold">End of Sample</text>
<text x="732" y="202">FALSE</text>
<text x="648" y="196">StepSize:</text><text x="673" y="196">µm</text>
<text x="645" y="203">Continuous alignment is running...</text>
</g>
<g fill="#f4f4f4" stroke="#888" stroke-width=".4">
<rect x="664" y="159" width="8" height="7"/><rect x="641" y="171" width="8" height="7"/><rect x="657" y="171" width="8" height="7"/><rect x="668" y="171" width="8" height="7"/><rect x="684" y="171" width="8" height="7"/><rect x="664" y="183" width="8" height="7"/>
<rect x="661" y="193" width="11" height="4.5" fill="#fff"/>
<rect x="738" y="184" width="21" height="5.5" rx="1"/>
</g>
<g fill="#111"><path d="M668 160l-2.5 3h5z M667 162.5h2v3h-2z"/><path d="M642 174.5l3-2.5v5z M644.5 173.5h3.5v2h-3.5z"/><path d="M691 174.5l-3-2.5v5z M684.5 173.5h3.5v2h-3.5z"/><path d="M668 189l-2.5-3h5z M667 183.5h2v3h-2z"/></g>
<path d="M658.5 174.5h5M661 172v5M669.5 174.5h5" stroke="#111" stroke-width=".9"/>
<text x="664" y="196.5" class="cb" font-size="3">10</text>
<text x="743" y="188" class="cb" font-size="3">Reset</text>
<rect x="647" y="207.5" width="41" height="5.5" fill="#7ec0ee" stroke="#3a7ab8" stroke-width=".4"/>
<text x="648.5" y="211.5" class="cb" font-size="3">Continuous alignment On/Off</text>

<!-- ============ PANEL C ============ -->
<g class="f" font-size="11.5" fill="#111">
<text x="447" y="275">Bright field</text>
<text x="588" y="275" text-anchor="middle" letter-spacing="1">PE</text>
<text x="644" y="275" text-anchor="middle">BV421</text>
</g>
<rect x="445" y="280" width="287" height="167" fill="#050505"/>
<rect x="445" y="280" width="287" height="29" fill="#0a0a0a"/>
<rect x="673" y="280" width="59" height="29" fill="#180b0b"/>
<g class="f" font-size="14.5" fill="#fff" text-anchor="middle"><text x="477" y="301">Ch01</text><text x="591" y="301">Ch03</text><text x="647" y="301">Ch11</text></g>
<rect x="445" y="309" width="287" height="3" fill="#3a3a3a"/>
<rect x="445" y="353" width="287" height="4" fill="#2e2e2e"/>
<rect x="445" y="398" width="287" height="4" fill="#2e2e2e"/>
<!-- row tints -->
<rect x="560" y="312" width="57" height="41" fill="url(#pPE)"/>
<rect x="560" y="357" width="57" height="41" fill="url(#pPE)"/>
<rect x="560" y="402" width="57" height="45" fill="url(#pPE)"/>
<rect x="617" y="357" width="54" height="41" fill="#071a1c"/>
<rect x="617" y="402" width="54" height="45" fill="#071a1c"/>
<rect x="673" y="312" width="59" height="41" fill="#150606"/>
<rect x="673" y="357" width="59" height="41" fill="#150606"/>
<rect x="673" y="402" width="59" height="45" fill="#150606"/>
<!-- bright field tiles -->
<g fill="#b3b3b3" stroke="#1a1a1a" stroke-width="1"><rect x="446" y="312.5" width="56" height="40"/><rect x="446" y="357.5" width="56" height="40"/><rect x="446" y="402.5" width="56" height="44"/></g>
<g class="s" font-size="5.5" fill="#222"><text x="447" y="318.5">4432</text><text x="447" y="363.5">252</text><text x="447" y="408.5">317</text></g>
<g stroke="#555" stroke-width=".8"><circle cx="475" cy="335" r="3.8" fill="#eaeaea"/><circle cx="474" cy="378" r="4.2" fill="#e0e0e0"/><circle cx="478" cy="423" r="6.8" fill="#d8d8d8" stroke="#777"/></g>
<ellipse cx="588" cy="333" rx="7.5" ry="9" fill="url(#gPE)"/>
<circle cx="588" cy="423" r="7.5" fill="url(#gPE2)"/>
<circle cx="642" cy="377" r="4.3" fill="#0c3a3e" stroke="#2fc4cc" stroke-width="1.8"/>
<circle cx="643" cy="423" r="7.5" fill="url(#gCy)"/>
<g class="f" font-weight="bold" font-size="9" fill="#111">
<text transform="translate(738,322) rotate(33)">CD133<tspan font-size="5.5" dy="-3">+</tspan></text>
<text transform="translate(738,367) rotate(33)">CD166<tspan font-size="5.5" dy="-3">+</tspan></text>
<text transform="translate(737,411) rotate(29)">CD166<tspan font-size="5.5" dy="-3">+</tspan><tspan dy="3">CD133</tspan><tspan font-size="5.5" dy="-3">+</tspan></text>
</g>
</svg>
</body></html>
